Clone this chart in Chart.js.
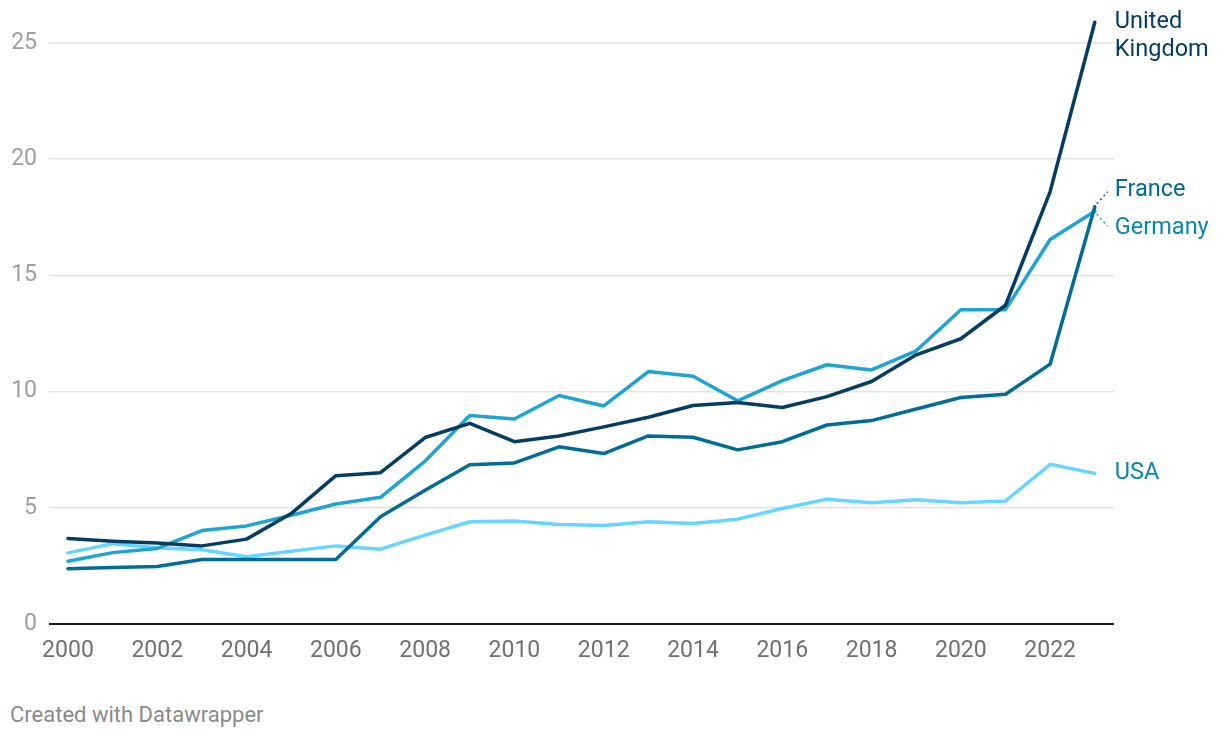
<!DOCTYPE html>
<html>
<head>
<meta charset="utf-8">
<script src="https://cdn.jsdelivr.net/npm/chart.js@4.4.1/dist/chart.umd.min.js"></script>
<style>
    body { margin: 0; background: #fff; font-family: Roboto, sans-serif; }
    #wrap { position: relative; width: 1220px; height: 682px; }
    #credit { position: absolute; left: 10px; top: 701px; font-size: 22px; line-height: 28px; color: #8a8a8a; }
</style>
</head>
<body>
<div id="wrap"><canvas id="chart"></canvas></div>
<div id="credit">Created with Datawrapper</div>
<script>
// years on the x axis
const years = [2000, 2001, 2002, 2003, 2004, 2005, 2006, 2007, 2008, 2009, 2010, 2011,
    2012, 2013, 2014, 2015, 2016, 2017, 2018, 2019, 2020, 2021, 2022, 2023];

// values
const ukValues = [3.68, 3.56, 3.48, 3.36, 3.65, 4.75, 6.38, 6.51, 8.02, 8.63, 7.84, 8.09,
    8.48, 8.89, 9.40, 9.53, 9.31, 9.78, 10.43, 11.58, 12.27, 13.71, 18.6, 25.88];
const franceValues = [2.38, 2.43, 2.47, 2.77, 2.77, 2.77, 2.77, 4.61, 5.75, 6.85, 6.93, 7.62,
    7.33, 8.09, 8.03, 7.49, 7.84, 8.56, 8.75, 9.25, 9.74, 9.88, 11.18, 17.95];
const germanyValues = [2.70, 3.07, 3.25, 4.02, 4.22, 4.68, 5.16, 5.45, 7.01, 8.97, 8.82, 9.83,
    9.38, 10.86, 10.66, 9.60, 10.47, 11.15, 10.93, 11.75, 13.52, 13.52, 16.54, 17.75];
const usaValues = [3.06, 3.45, 3.28, 3.19, 2.89, 3.13, 3.36, 3.22, 3.82, 4.40, 4.43, 4.28,
    4.24, 4.40, 4.32, 4.51, 4.97, 5.37, 5.22, 5.34, 5.22, 5.29, 6.87, 6.48];

const yTicks = [0, 5, 10, 15, 20, 25];
const xTicks = [2000, 2002, 2004, 2006, 2008, 2010, 2012, 2014, 2016, 2018, 2020, 2022];

const series = [
    { name: ['United', 'Kingdom'], values: ukValues, color: '#053d60', labelColor: '#053d60', shift: 0, leader: false },
    { name: ['France'], values: franceValues, color: '#006d95', labelColor: '#006a91', shift: -17, leader: true },
    { name: ['Germany'], values: germanyValues, color: '#1ea4d0', labelColor: '#0a86ad', shift: 17, leader: true },
    { name: ['USA'], values: usaValues, color: '#66d6ff', labelColor: '#0a86ad', shift: 0, leader: false }
];

// draws the series names at the right end of each line
const endLabels = {
    id: 'endLabels',
    afterDatasetsDraw(chart) {
        const ctx = chart.ctx;
        ctx.save();
        ctx.font = '23.5px Roboto';
        ctx.textBaseline = 'middle';
        ctx.textAlign = 'left';
        series.forEach((s, i) => {
            const pts = chart.getDatasetMeta(i).data;
            const p = pts[pts.length - 1];
            const lx = p.x + 20;
            const ly = p.y + s.shift;
            if (s.leader) {
                ctx.strokeStyle = s.color;
                ctx.lineWidth = 1.5;
                ctx.setLineDash([2, 3]);
                ctx.beginPath();
                ctx.moveTo(p.x + 2, p.y + Math.sign(s.shift) * 3);
                ctx.lineTo(lx - 7, ly - Math.sign(s.shift) * 2);
                ctx.stroke();
                ctx.setLineDash([]);
            }
            ctx.fillStyle = s.labelColor;
            s.name.forEach((line, k) => ctx.fillText(line, lx, ly + k * 28));
        });
        ctx.restore();
    }
};

new Chart(document.getElementById('chart'), {
    type: 'line',
    data: {
        datasets: series.map(s => ({
            label: s.name.join(' '),
            data: years.map((y, i) => ({ x: y, y: s.values[i] })),
            borderColor: s.color,
            borderWidth: 3.5,
            pointRadius: 0,
            tension: 0,
            borderJoinStyle: 'round',
            borderCapStyle: 'round',
            clip: false
        }))
    },
    options: {
        responsive: true,
        maintainAspectRatio: false,
        animation: false,
        layout: { padding: { top: 0, right: 106, bottom: 0, left: 0 } },
        plugins: { legend: { display: false }, tooltip: { enabled: false } },
        scales: {
            x: {
                type: 'linear',
                min: 1999.575,
                max: 2023.43,
                afterBuildTicks: scale => { scale.ticks = xTicks.map(v => ({ value: v })); },
                afterFit: scale => { scale.height = 58; },
                grid: { display: false, drawTicks: false },
                border: { display: false },
                ticks: {
                    padding: 13.5,
                    maxRotation: 0,
                    autoSkip: false,
                    color: '#707070',
                    font: { family: 'Roboto', size: 23 },
                    callback: v => String(v)
                }
            },
            y: {
                min: 0,
                max: 25.73,
                afterBuildTicks: scale => { scale.ticks = yTicks.map(v => ({ value: v })); },
                afterFit: scale => { scale.width = 49; },
                grid: {
                    drawTicks: false,
                    color: c => c.tick.value === 0 ? '#1a1a1a' : '#e3e3e3',
                    lineWidth: c => c.tick.value === 0 ? 2 : 1.5
                },
                border: { display: false },
                ticks: {
                    padding: 12,
                    color: '#9e9e9e',
                    font: { family: 'Roboto', size: 23 },
                    callback: v => String(v)
                }
            }
        }
    },
    plugins: [endLabels]
});
</script>
</body>
</html>
